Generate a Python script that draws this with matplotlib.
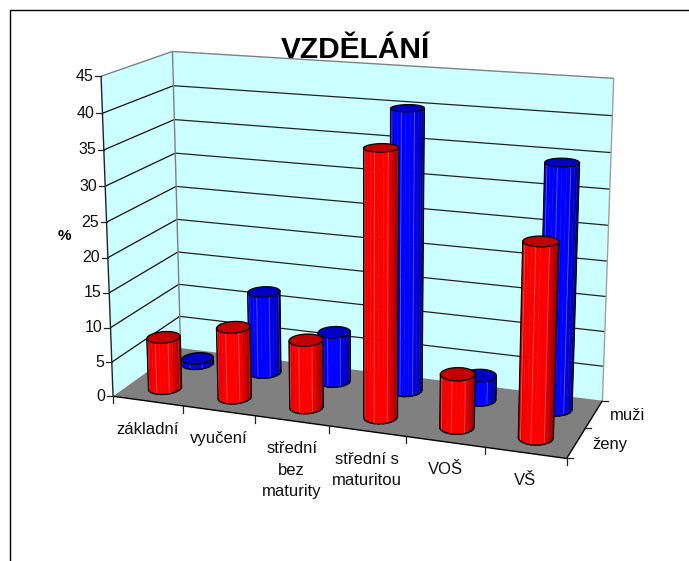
import numpy as np
import matplotlib
matplotlib.use('Agg')
import matplotlib.pyplot as plt
from matplotlib.colors import to_rgb

plt.rcParams['font.family'] = ['Liberation Sans', 'DejaVu Sans']

# Data
categories = ['základní', 'vyučení', 'střední\nbez\nmaturity', 'střední s\nmaturitou', 'VOŠ', 'VŠ']
series_names = ['ženy', 'muži']
zeny = [7.5, 10.2, 9.6, 37.0, 7.4, 26.5]
muzi = [0.8, 12.1, 7.3, 40.2, 3.5, 34.4]
value_ticks = [0, 5, 10, 15, 20, 25, 30, 35, 40, 45]
y_max = 45
title = 'VZDĚLÁNÍ'

# Box corners in data units (category, series, value) and where they sit in the picture
box_pts = [(0, 0, 0), (0, 0, 45), (0, 2, 0), (0, 2, 45), (6, 2, 0), (6, 2, 45), (6, 0, 0)]
pix_pts = [(113.7, 396.5), (101, 75.5), (180, 348), (172.5, 52), (603, 400), (613.7, 78.5), (566, 459)]


def fit_camera(world, pix):
    rows = []
    for (x, y, z), (u, v) in zip(world, pix):
        p = [x / 6, y / 2, z / y_max, 1]
        rows.append(p + [0, 0, 0, 0] + [-u * c for c in p])
        rows.append([0, 0, 0, 0] + p + [-v * c for c in p])
    return np.linalg.svd(np.array(rows))[2][-1].reshape(3, 4)


cam = fit_camera(box_pts, pix_pts)


def project(x, y, z):
    x, y, z = np.broadcast_arrays(x, y, z)
    h = cam @ np.array([x / 6, y / 2, z / y_max, np.ones_like(x, dtype=float)])
    return h[0] / h[2], h[1] / h[2]


def poly(ax, pts, **kw):
    u, v = project(*np.array(pts, dtype=float).T)
    ax.fill(u, v, **kw)


def line(ax, a, b, **kw):
    u, v = project(*np.array([a, b], dtype=float).T)
    ax.plot(u, v, solid_capstyle='butt', **kw)


def cylinder(ax, cx, cy, value, side, top, zo, rx=0.21, ry=0.24, n=24):
    ang = np.linspace(0, 2 * np.pi, n + 1)
    xs = cx + rx * np.cos(ang)
    ys = cy + ry * np.sin(ang)
    bu, bv = project(xs, ys, 0.0)
    tu, tv = project(xs, ys, value)
    mid = (bu.min() + bu.max()) / 2
    half = (bu.max() - bu.min()) / 2
    side = np.array(to_rgb(side))
    vis = []
    for k in range(n):
        qu = [bu[k], bu[k + 1], tu[k + 1], tu[k]]
        qv = [bv[k], bv[k + 1], tv[k + 1], tv[k]]
        area = sum(qu[i] * qv[(i + 1) % 4] - qu[(i + 1) % 4] * qv[i] for i in range(4))
        vis.append(area < 0)
    for k in range(n):
        if not vis[k]:
            continue
        t = ((bu[k] + bu[k + 1]) / 2 - mid) / half
        # brightest left of centre, falling off hard to the right
        shade = 1.0 - 0.12 * max(0, -t - 0.5) / 0.5 - 0.42 * max(0, t - 0.35) / 0.65
        col = side * shade
        ax.fill([bu[k], bu[k + 1], tu[k + 1], tu[k]], [bv[k], bv[k + 1], tv[k + 1], tv[k]],
                color=col, lw=0.3, zorder=zo)
        if k % 3 == 0:
            ax.plot([bu[k], tu[k]], [bv[k], tv[k]], color='white', alpha=0.25, lw=0.7, zorder=zo)
    # outline
    for k in range(n):
        if vis[k]:
            ax.plot([bu[k], bu[k + 1]], [bv[k], bv[k + 1]], color='black', lw=0.9, zorder=zo + 0.1)
        if vis[k] != vis[(k + 1) % n]:
            ax.plot([bu[k + 1], tu[k + 1]], [bv[k + 1], tv[k + 1]], color='black', lw=0.9, zorder=zo + 0.1)
    ax.fill(tu, tv, facecolor=top, edgecolor='black', lw=0.9, zorder=zo + 0.1)


fig = plt.figure(figsize=(6.89, 5.61), dpi=100)
ax = fig.add_axes([0, 0, 1, 1])
ax.set_xlim(0, 689)
ax.set_ylim(561, 0)
ax.axis('off')

# Chart border, cut by the image on the right and bottom
ax.plot([10, 10, 689], [561, 10, 10], color='black', lw=1.0)

# Walls and floor
wall = '#CCFFFF'
edge = '#808080'
poly(ax, [(0, 0, 0), (0, 0, y_max), (0, 2, y_max), (0, 2, 0)], color=wall, lw=0)
poly(ax, [(0, 2, 0), (0, 2, y_max), (6, 2, y_max), (6, 2, 0)], color=wall, lw=0)
poly(ax, [(0, 0, 0), (6, 0, 0), (6, 2, 0), (0, 2, 0)], color='#808080', lw=0)

for val in value_ticks[1:-1]:
    line(ax, (0, 0, val), (0, 2, val), color='#111111', lw=0.9)
    line(ax, (0, 2, val), (6, 2, val), color='#222222', lw=0.9)
line(ax, (0, 0, y_max), (0, 2, y_max), color=edge, lw=1.0)
line(ax, (0, 2, y_max), (6, 2, y_max), color=edge, lw=1.0)
line(ax, (0, 2, 0), (0, 2, y_max), color=edge, lw=1.0)
line(ax, (6, 2, 0), (6, 2, y_max), color='#A0A0A0', lw=1.0)

# Axes
line(ax, (0, 0, 0), (0, 0, y_max), color='#222222', lw=1.0)
line(ax, (0, 0, 0), (6, 0, 0), color='black', lw=1.0)
line(ax, (6, 0, 0), (6, 2, 0), color='black', lw=1.0)

for val in value_ticks:
    u, v = project(0.0, 0.0, val)
    ax.plot([u - 6, u], [v, v], color='#222222', lw=0.9)
    ax.text(u - 8, v, str(val), ha='right', va='center', fontsize=11.5, color='#111111')

for i in range(len(categories) + 1):
    u, v = project(float(i), 0.0, 0.0)
    ax.plot([u, u], [v, v + 7], color='#222222', lw=0.9)

for i, name in enumerate(categories):
    u, v = project(i + 0.5, 0.0, 0.0)
    ax.text(u, v + 20.5, name, ha='center', va='top', fontsize=12, color='#111111', linespacing=1.55)

for s in range(len(series_names) + 1):
    u, v = project(6.0, float(s), 0.0)
    ax.plot([u, u + 6], [v, v], color='#222222', lw=0.9)

for s, name in enumerate(series_names):
    u, v = project(6.0, s + 0.5, 0.0)
    ax.text(u + 16, v + 1, name, ha='left', va='center', fontsize=12, color='#111111')

# Bars, back row first
for i, val in enumerate(muzi):
    cylinder(ax, i + 0.5, 1.5, val, '#0000FF', '#0000C0', 5)
for i, val in enumerate(zeny):
    cylinder(ax, i + 0.5, 0.5, val, '#FF0000', '#C00000', 6)

ax.text(355, 50, title, ha='center', va='center', fontsize=21.5, fontweight='bold', zorder=10)
ax.text(64.5, 236, '%', ha='center', va='center', fontsize=11, fontweight='bold', zorder=10)

fig.savefig('out.png', dpi=100)
